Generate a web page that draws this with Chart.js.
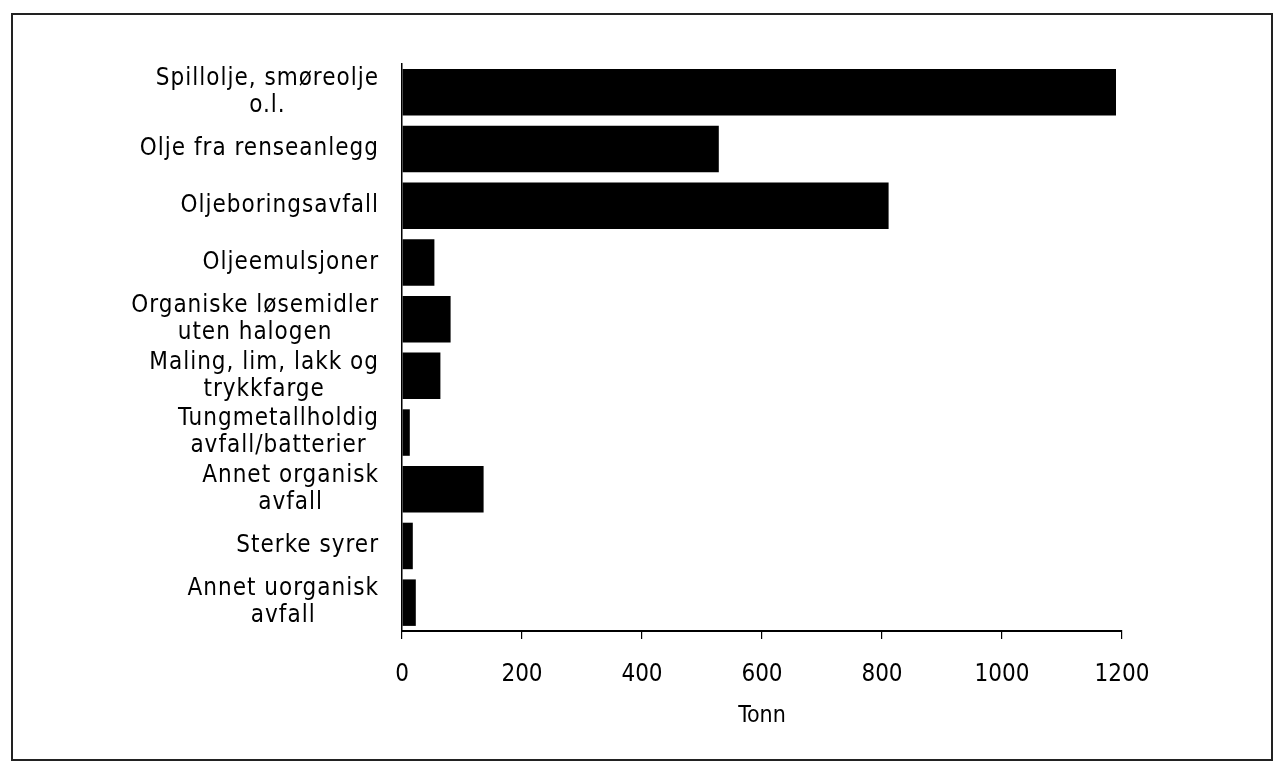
<!DOCTYPE html>
<html>
<head>
<meta charset="utf-8">
<script src="https://cdn.jsdelivr.net/npm/chart.js@4/dist/chart.umd.min.js"></script>
<style>
  html, body { margin: 0; padding: 0; background: #fff; }
  #wrap { position: relative; width: 1281px; height: 768px; }
</style>
</head>
<body>
<div id="wrap"><canvas id="myChart" width="1281" height="768"></canvas></div>
<script>
// categories (multi-line as in the picture)
const categories = [
  ["Spillolje, smøreolje", "o.l."],
  ["Olje fra renseanlegg"],
  ["Oljeboringsavfall"],
  ["Oljeemulsjoner"],
  ["Organiske løsemidler", "uten halogen"],
  ["Maling, lim, lakk og", "trykkfarge"],
  ["Tungmetallholdig", "avfall/batterier"],
  ["Annet organisk", "avfall"],
  ["Sterke syrer"],
  ["Annet uorganisk", "avfall"]
];
const tonn = [1190, 528, 811, 54, 81, 64, 13, 136, 18, 23];
const xTicks = [0, 200, 400, 600, 800, 1000, 1200];
const xTitle = "Tonn";

const fam = "'Liberation Sans Narrow', 'DejaVu Sans Condensed', sans-serif";
const labelFont = "24px " + fam;

// frame + centered multi-line category labels, right-aligned as a block
const labelsPlugin = {
  id: "catLabels",
  beforeDraw(chart) {
    const ctx = chart.ctx;
    ctx.save();
    ctx.strokeStyle = "#222";
    ctx.lineWidth = 2;
    ctx.strokeRect(12, 14, 1260, 746);
    ctx.restore();
  },
  afterDraw(chart) {
    const ctx = chart.ctx;
    const y = chart.scales.y;
    ctx.save();
    ctx.font = labelFont;
    ctx.fillStyle = "#000";
    ctx.textBaseline = "middle";
    ctx.textAlign = "center";
    if ("letterSpacing" in ctx) ctx.letterSpacing = "1px";
    const right = 379, lh = 27;
    categories.forEach((lines, i) => {
      const cy = y.getPixelForTick(i);
      const w = Math.max(...lines.map(l => ctx.measureText(l).width));
      const cx = right - w / 2;
      const y0 = cy - (lines.length - 1) * lh / 2;
      lines.forEach((l, k) => ctx.fillText(l, cx, y0 + k * lh));
    });
    ctx.restore();
  }
};

new Chart(document.getElementById("myChart").getContext("2d"), {
  type: "bar",
  data: {
    labels: categories,
    datasets: [{
      label: xTitle,
      data: tonn,
      backgroundColor: "#000",
      borderWidth: 0,
      barPercentage: 0.82,
      categoryPercentage: 1.0
    }]
  },
  options: {
    indexAxis: "y",
    responsive: false,
    animation: false,
    layout: { padding: { left: 12, right: 159, top: 64, bottom: 0 } },
    plugins: { legend: { display: false }, tooltip: { enabled: false } },
    scales: {
      y: {
        grid: { display: false, drawTicks: false },
        border: { display: true, color: "#000", width: 1.5 },
        ticks: { display: false },
        afterFit(s) { s.width = 390; }
      },
      x: {
        min: 0,
        max: 1200,
        afterBuildTicks(s) { s.ticks = xTicks.map(v => ({ value: v })); },
        grid: { drawOnChartArea: false, drawTicks: true, tickLength: 8, color: "#000", lineWidth: 1.2 },
        border: { display: true, color: "#000", width: 2 },
        ticks: {
          color: "#000",
          font: { family: fam, size: 24 },
          padding: 21,
          callback: v => String(v)
        },
        title: {
          display: true,
          text: xTitle,
          color: "#000",
          font: { family: fam, size: 23 },
          padding: { top: 0, bottom: 38 }
        },
        afterFit(s) { s.height = 137; }
      }
    }
  },
  plugins: [labelsPlugin]
});
</script>
</body>
</html>
